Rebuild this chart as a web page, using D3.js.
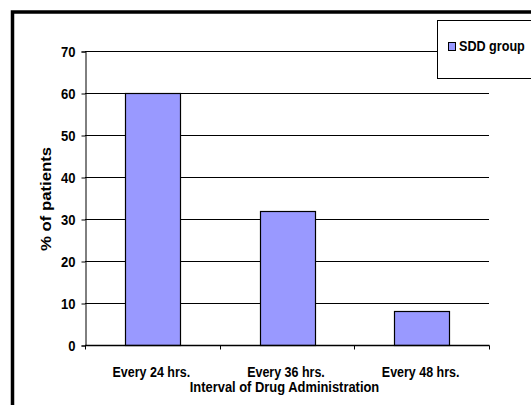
<!DOCTYPE html>
<html>
<head>
<meta charset="utf-8">
<script src="https://cdn.jsdelivr.net/npm/d3@7"></script>
<style>
  html, body { margin: 0; padding: 0; background: #fff; }
  svg { display: block; }
  text { font-family: Arial, "Liberation Sans", sans-serif; font-weight: bold; fill: #000; }
</style>
</head>
<body>
<svg id="chart" width="531" height="405"></svg>
<script>
// Share of patients by dosing interval
const categories = ["Every 24 hrs.", "Every 36 hrs.", "Every 48 hrs."];
const sddValues = [60, 32, 8];
const yTicks = [0, 10, 20, 30, 40, 50, 60, 70];
const seriesName = "SDD group";

const svg = d3.select("#chart");
const W = 531, H = 405;
const plot = { left: 85, right: 489, top: 51, bottom: 345 };
const FONT = "Arial, 'Liberation Sans', sans-serif";

// narrow the glyphs of a text element to a share of its natural width
function condense(sel, k) {
  sel.each(function () {
    const w = this.getComputedTextLength();
    d3.select(this).attr("textLength", w * k).attr("lengthAdjust", "spacingAndGlyphs");
  });
}

// outer frame (runs off the right and bottom edges)
svg.append("rect")
  .attr("x", 12.5).attr("y", 12)
  .attr("width", W + 20).attr("height", H + 20)
  .attr("fill", "none").attr("stroke", "#000").attr("stroke-width", 3.5);

const x = d3.scaleBand().domain(categories)
  .range([plot.left, plot.right]).paddingInner(0.592).paddingOuter(0.296);
const xOuter = d3.scaleBand().domain(categories).range([plot.left, plot.right]);
const y = d3.scaleLinear().domain([0, 70]).range([plot.bottom, plot.top]);

// gridlines
svg.append("g").selectAll("line").data(yTicks.filter(d => d > 0)).join("line")
  .attr("x1", plot.left).attr("x2", plot.right)
  .attr("y1", d => Math.round(y(d)) + 0.5).attr("y2", d => Math.round(y(d)) + 0.5)
  .attr("stroke", "#000").attr("stroke-width", 1);

// bars
svg.append("g").selectAll("rect").data(sddValues).join("rect")
  .attr("x", (d, i) => Math.round(x(categories[i])) + 0.5)
  .attr("y", d => Math.round(y(d)) + 0.5)
  .attr("width", Math.round(x.bandwidth()))
  .attr("height", d => Math.round(y(0)) - Math.round(y(d)))
  .attr("fill", "#9999FF").attr("stroke", "#000").attr("stroke-width", 1.2);

// y axis
const yAxis = svg.append("g")
  .attr("transform", `translate(${plot.left + 0.5},0.5)`)
  .call(d3.axisLeft(y).tickValues(yTicks).tickSize(4).tickPadding(6));
yAxis.select(".domain").attr("stroke", "#000");
yAxis.selectAll(".tick line").attr("stroke", "#000");
yAxis.selectAll(".tick text")
  .style("font-size", "14.5px").style("font-weight", "bold")
  .style("font-family", FONT).attr("dy", "0.36em")
  .call(condense, 0.9);

// x axis with ticks at category boundaries
const xAxisG = svg.append("g")
  .attr("transform", `translate(0,${Math.round(y(0)) + 0.5})`);
xAxisG.append("line")
  .attr("x1", plot.left).attr("x2", plot.right + 0.5)
  .attr("stroke", "#000").attr("stroke-width", 1.3);
const bounds = categories.map(c => xOuter(c)).concat([plot.right]);
xAxisG.selectAll("line.tk").data(bounds).join("line").attr("class", "tk")
  .attr("x1", d => Math.round(d) + 0.5).attr("x2", d => Math.round(d) + 0.5)
  .attr("y1", 0).attr("y2", 4).attr("stroke", "#000");
xAxisG.selectAll("text").data(categories).join("text")
  .attr("x", d => xOuter(d) + xOuter.bandwidth() / 2 - 1)
  .attr("y", 31)
  .attr("text-anchor", "middle")
  .style("font-size", "14.5px")
  .text(d => d)
  .call(condense, 0.86);

// axis titles
svg.append("text")
  .attr("x", 284.5).attr("y", 392)
  .attr("text-anchor", "middle").style("font-size", "14.5px")
  .text("Interval of Drug Administration")
  .call(condense, 0.89);
svg.append("text")
  .attr("transform", `translate(51,199) rotate(-90)`)
  .attr("text-anchor", "middle").style("font-size", "14.5px")
  .attr("textLength", 104).attr("lengthAdjust", "spacingAndGlyphs")
  .text("% of patients");

// legend
const lg = svg.append("g");
lg.append("rect").attr("x", 437.5).attr("y", 20.5).attr("width", 120).attr("height", 58)
  .attr("fill", "#fff").attr("stroke", "#000");
lg.append("rect").attr("x", 448.5).attr("y", 42.5).attr("width", 7).attr("height", 8)
  .attr("fill", "#9999FF").attr("stroke", "#000");
lg.append("text").attr("x", 459).attr("y", 51).style("font-size", "14px").text(seriesName)
  .call(condense, 0.9);
</script>
</body>
</html>
